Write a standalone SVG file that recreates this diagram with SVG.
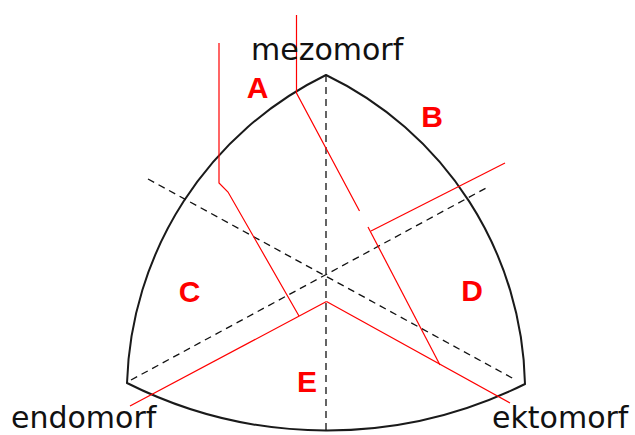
<svg xmlns="http://www.w3.org/2000/svg" width="635" height="435" viewBox="0 0 635 435">
<style>
.outline{fill:none;stroke:#1a1a1a;stroke-width:2}
.dash{fill:none;stroke:#111;stroke-width:1.3;stroke-dasharray:7 5}
.red{fill:none;stroke:#ff0000;stroke-width:1.2}
.name{font-family:"DejaVu Sans",sans-serif;font-size:30px;fill:#111}
.lbl{font-family:"Liberation Sans",Arial,sans-serif;font-weight:bold;font-size:30px;fill:#ff0000;text-anchor:middle}
</style>
<rect width="635" height="435" fill="#fff"/>
<g id="outline">
<path class="outline" d="M127,383 A355,355 0 0 1 326,75 A351,351 0 0 1 525,384 A445,445 0 0 1 127,383 Z"/>
</g>
<g id="axes">
<line class="dash" x1="326" y1="75" x2="326" y2="435"/>
<line class="dash" x1="148" y1="179" x2="514" y2="379"/>
<line class="dash" x1="131" y1="380" x2="488" y2="187"/>
</g>
<g id="connectors">
<polyline class="red" points="219,43 219,183 228,192 299,316"/>
<polyline class="red" points="296.5,15 296.5,93 359.5,211"/>
<line class="red" x1="130" y1="406" x2="326.5" y2="301.5"/>
<line class="red" x1="326.5" y1="301.5" x2="510" y2="403"/>
<line class="red" x1="368" y1="227" x2="440" y2="365"/>
<line class="red" x1="371" y1="231" x2="505" y2="163"/>
</g>
<g id="mezomorf"><text class="name" x="251" y="60">mezomorf</text></g>
<g id="endomorf"><text class="name" x="11" y="428">endomorf</text></g>
<g id="ektomorf"><text class="name" x="492" y="428">ektomorf</text></g>
<g id="A"><text class="lbl" x="257.5" y="97.5">A</text></g>
<g id="B"><text class="lbl" x="432" y="126.5">B</text></g>
<g id="C"><text class="lbl" x="189.5" y="301.5">C</text></g>
<g id="D"><text class="lbl" x="472" y="300.5">D</text></g>
<g id="E"><text class="lbl" x="307" y="391.5">E</text></g>
</svg>
